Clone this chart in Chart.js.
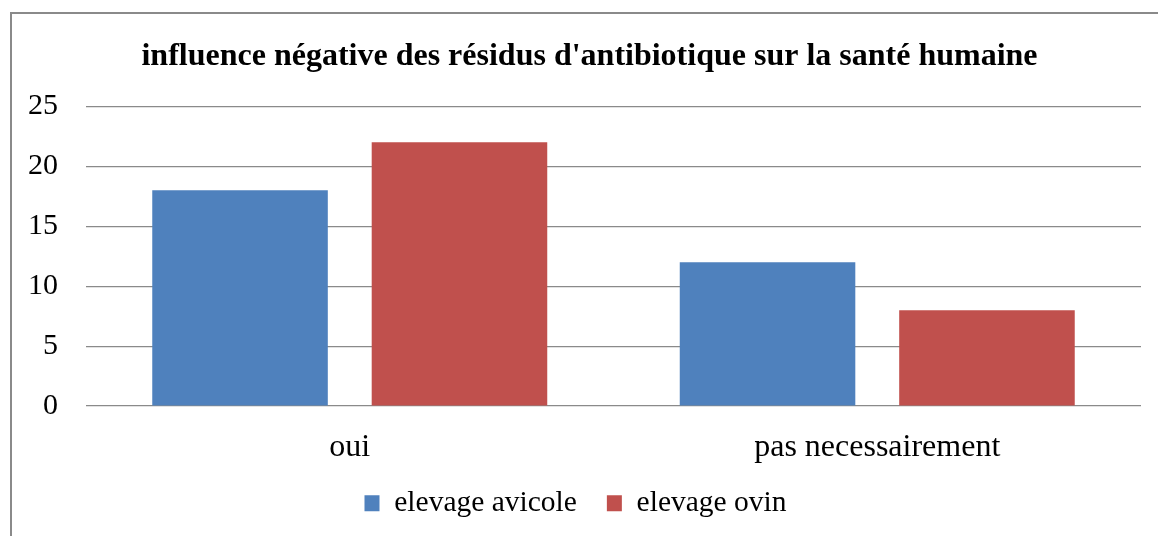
<!DOCTYPE html>
<html>
<head>
<meta charset="utf-8">
<script src="https://cdn.jsdelivr.net/npm/chart.js@4"></script>
<style>
  html, body { margin: 0; padding: 0; background: #fff; overflow: hidden; }
  #frame {
    position: absolute; left: 10px; top: 12px;
    width: 1200px; height: 600px;
    border: 2px solid #8a8a8a;
  }
  #wrap { position: absolute; left: 0; top: 0; width: 1158px; height: 536px; }
</style>
</head>
<body>
<div id="frame"></div>
<div id="wrap"><canvas id="chart"></canvas></div>
<script>
// Chart data
const categories = ['oui', 'pas necessairement'];
const seriesNames = ['elevage avicole', 'elevage ovin'];
const avicoleValues = [18, 12];
const ovinValues = [22, 8];
const yTicks = [0, 5, 10, 15, 20, 25];

const SERIF = "'Liberation Serif', 'Times New Roman', serif";

Chart.defaults.font.family = SERIF;
Chart.defaults.color = '#000';

// Shift the title / legend boxes a little after layout, the way Excel places them
const nudgeBoxes = {
  id: 'nudgeBoxes',
  afterLayout(chart) {
    if (chart.titleBlock) chart.titleBlock.left += 38;
    if (chart.legend) {
      chart.legend.left += 10;
      chart.legend.top -= 22;
      chart.legend.bottom -= 22;
    }
  }
};

new Chart(document.getElementById('chart'), {
  type: 'bar',
  data: {
    labels: categories,
    datasets: [
      { label: seriesNames[0], data: avicoleValues, backgroundColor: '#4F81BD' },
      { label: seriesNames[1], data: ovinValues, backgroundColor: '#C0504D' }
    ]
  },
  plugins: [nudgeBoxes],
  options: {
    responsive: true,
    maintainAspectRatio: false,
    animation: false,
    categoryPercentage: 0.832,
    barPercentage: 0.8,
    layout: { padding: { left: 0, right: 17, top: 38, bottom: -14 } },
    scales: {
      x: {
        grid: { display: false },
        border: { display: false },
        ticks: { font: { size: 32 }, padding: 14 }
      },
      y: {
        min: 0,
        max: 25,
        afterBuildTicks: (axis) => { axis.ticks = yTicks.map(v => ({ value: v })); },
        grid: { color: '#8a8a8a', lineWidth: 1.3, drawTicks: false },
        border: { display: false },
        ticks: { font: { size: 30 }, padding: 28 }
      }
    },
    plugins: {
      title: {
        display: true,
        text: "influence négative des résidus d'antibiotique sur la santé humaine",
        font: { size: 32, weight: 'bold' },
        padding: { top: 0, bottom: 30 }
      },
      legend: {
        position: 'bottom',
        labels: {
          font: { size: 29.5 },
          boxWidth: 15,
          boxHeight: 16,
          padding: 30
        }
      },
      tooltip: { enabled: false }
    }
  }
});
</script>
</body>
</html>
